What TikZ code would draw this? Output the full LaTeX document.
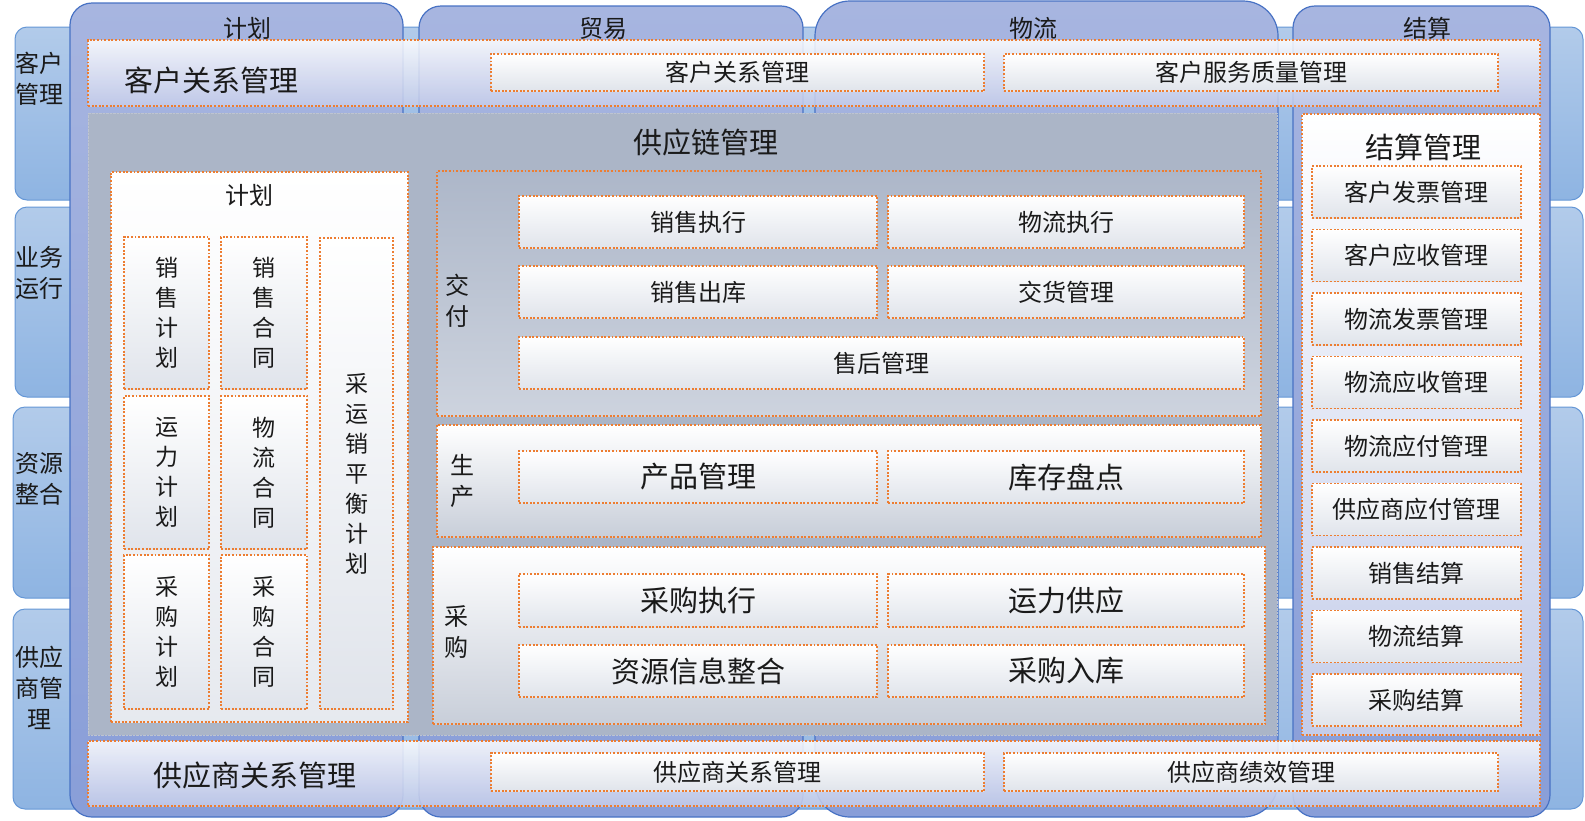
\documentclass[tikz,border=0pt]{standalone}
\usepackage{fontspec}
\setmainfont{Noto Sans CJK SC}
\usetikzlibrary{positioning}
\definecolor{bandtop}{RGB}{178,203,234}
\definecolor{bandbot}{RGB}{142,180,226}
\definecolor{bandline}{RGB}{101,151,214}
\definecolor{coltop}{RGB}{167,181,224}
\definecolor{colbot}{RGB}{137,158,216}
\definecolor{colline}{RGB}{72,114,196}
\definecolor{banbot}{RGB}{196,204,234}
\definecolor{panel}{RGB}{171,181,199}
\definecolor{panelline}{RGB}{190,196,208}
\definecolor{jftop}{RGB}{173,183,201}
\definecolor{jfbot}{RGB}{205,211,222}
\definecolor{grbot}{RGB}{200,206,217}
\definecolor{subbot}{RGB}{224,228,235}
\definecolor{jsbot}{RGB}{196,205,234}
\definecolor{dotor}{RGB}{237,125,49}
\definecolor{txt}{RGB}{26,26,26}

\begin{document}
\begin{tikzpicture}[x=1pt,y=-1pt,
  every node/.style={text=txt},
  band/.style={draw=bandline, line width=1pt, rounded corners=12pt, top color=bandtop, bottom color=bandbot},
  col/.style={draw=colline, line width=1.2pt, rounded corners=22pt, top color=coltop, bottom color=colbot},
  dotbox/.style={draw=dotor, line width=1.9pt, dash pattern=on 1.9pt off 1.7pt},
  subbox/.style={dotbox, top color=white, bottom color=subbot, font=\fontsize{24}{30}\selectfont},
  small/.style={font=\fontsize{24}{30}\selectfont},
  big/.style={font=\fontsize{29}{34}\selectfont},
  vert/.style={align=center, font=\fontsize{23}{30}\selectfont},
  side/.style={align=center, font=\fontsize{24}{31}\selectfont}]
  \useasboundingbox (0,0) rectangle (1585,820);

  \node[band, minimum width=1568, minimum height=173] (kh) at (799,113.5) {};
  \node[band, minimum width=1568, minimum height=190] (yw) at (799,302) {};
  \node[band, minimum width=1570, minimum height=191] (zy) at (798,502.5) {};
  \node[band, minimum width=1570, minimum height=200] (gy) at (798,709) {};
  \node[side] (khT) at (40,79) {客户\\管理};
  \node[side] (ywT) at (40,273) {业务\\运行};
  \node[side] (zyT) at (40,479) {资源\\整合};
  \node[side] (gyT) at (40,688) {供应\\商管\\理};

  \node[col, minimum width=333, minimum height=814] (jh) at (236.5,410) {};
  \node[col, minimum width=384, minimum height=811] (my) at (611,411.5) {};
  \node[col, rounded corners=35pt, minimum width=463, minimum height=816] (wl) at (1046.5,409) {};
  \node[col, minimum width=257, minimum height=811] (js) at (1421.5,411.5) {};
  \node[small] (jhT) at (247,28) {计划};
  \node[small] (myT) at (603,28) {贸易};
  \node[small] (wlT) at (1033,28) {物流};
  \node[small] (jsT) at (1427,28) {结算};

  \node[dotbox, top color=white, bottom color=banbot, fill opacity=.85, minimum width=1452, minimum height=66] (khgl) at (814,73) {};
  \node[big] (khglT) at (211,80) {客户关系管理};
  \node[subbox, minimum width=493, minimum height=37] (khgx) at (737.5,72.5) {客户关系管理};
  \node[subbox, minimum width=494, minimum height=37] (khfw) at (1251,72.5) {客户服务质量管理};

  \node[draw=panelline, densely dotted, fill=panel, minimum width=1189, minimum height=622] (gyl) at (682.5,424) {};
  \node[big] (gylT) at (706,142) {供应链管理};

  \node[dotbox, top color=white, bottom color=subbot!80, minimum width=297, minimum height=550] (jhk) at (259.5,447) {};
  \node[small] (jhkT) at (249,195) {计划};
  \node[subbox, vert, minimum width=85, minimum height=152] (xsjh) at (166.5,313) {销\\售\\计\\划};
  \node[subbox, vert, minimum width=86, minimum height=152] (xsht) at (264,313) {销\\售\\合\\同};
  \node[subbox, vert, minimum width=85, minimum height=153] (yljh) at (166.5,472.5) {运\\力\\计\\划};
  \node[subbox, vert, minimum width=86, minimum height=153] (wlht) at (264,472.5) {物\\流\\合\\同};
  \node[subbox, vert, minimum width=85, minimum height=154] (cgjh) at (166.5,632) {采\\购\\计\\划};
  \node[subbox, vert, minimum width=86, minimum height=154] (cght) at (264,632) {采\\购\\合\\同};
  \node[subbox, vert, minimum width=73, minimum height=471] (phjh) at (356.5,473.5) {采\\运\\销\\平\\衡\\计\\划};

  \node[dotbox, top color=jftop, bottom color=jfbot, minimum width=824, minimum height=245] (jf) at (849,293.5) {};
  \node[side] (jfT) at (457,301) {交\\付};
  \node[subbox, minimum width=358, minimum height=52] (xszx) at (698,222) {销售执行};
  \node[subbox, minimum width=356, minimum height=52] (wlzx) at (1066,222) {物流执行};
  \node[subbox, minimum width=358, minimum height=52] (xsck) at (698,292) {销售出库};
  \node[subbox, minimum width=356, minimum height=52] (jhgl) at (1066,292) {交货管理};
  \node[subbox, minimum width=725, minimum height=52] (shgl) at (881.5,363) {售后管理};

  \node[dotbox, top color=white, bottom color=grbot, minimum width=824, minimum height=112] (sc) at (849,481) {};
  \node[side] (scT) at (462,481) {生\\产};
  \node[subbox, big, minimum width=358, minimum height=52] (cpgl) at (698,477) {产品管理};
  \node[subbox, big, minimum width=356, minimum height=52] (kcpd) at (1066,477) {库存盘点};

  \node[dotbox, top color=white, bottom color=grbot, minimum width=832, minimum height=177] (cg) at (849,635.5) {};
  \node[side] (cgT) at (456,632) {采\\购};
  \node[subbox, big, minimum width=358, minimum height=53] (cgzx) at (698,600.5) {采购执行};
  \node[subbox, big, minimum width=356, minimum height=53] (ylgy) at (1066,600.5) {运力供应};
  \node[subbox, big, minimum width=358, minimum height=52] (zyzh) at (698,671) {资源信息整合};
  \node[subbox, big, minimum width=356, minimum height=52] (cgrk) at (1066,671) {采购入库};

  \node[dotbox, top color=white, bottom color=jsbot, minimum width=238, minimum height=621] (jsgl) at (1421,424.5) {};
  \node[big] (jsglT) at (1423,147) {结算管理};
  \foreach \t [count=\i from 0] in {客户发票管理,客户应收管理,物流发票管理,物流应收管理,物流应付管理,供应商应付管理,销售结算,物流结算,采购结算}
    \node[subbox, minimum width=209, minimum height=52] (js\i) at (1416.5,192+63.5*\i) {\t};

  \node[dotbox, top color=white, bottom color=banbot, fill opacity=.85, minimum width=1452, minimum height=65] (gygl) at (814,773.5) {};
  \node[big] (gyglT) at (255,775) {供应商关系管理};
  \node[subbox, minimum width=493, minimum height=38] (gygx) at (737.5,772) {供应商关系管理};
  \node[subbox, minimum width=494, minimum height=38] (gyjx) at (1251,772) {供应商绩效管理};
\end{tikzpicture}
\end{document}
